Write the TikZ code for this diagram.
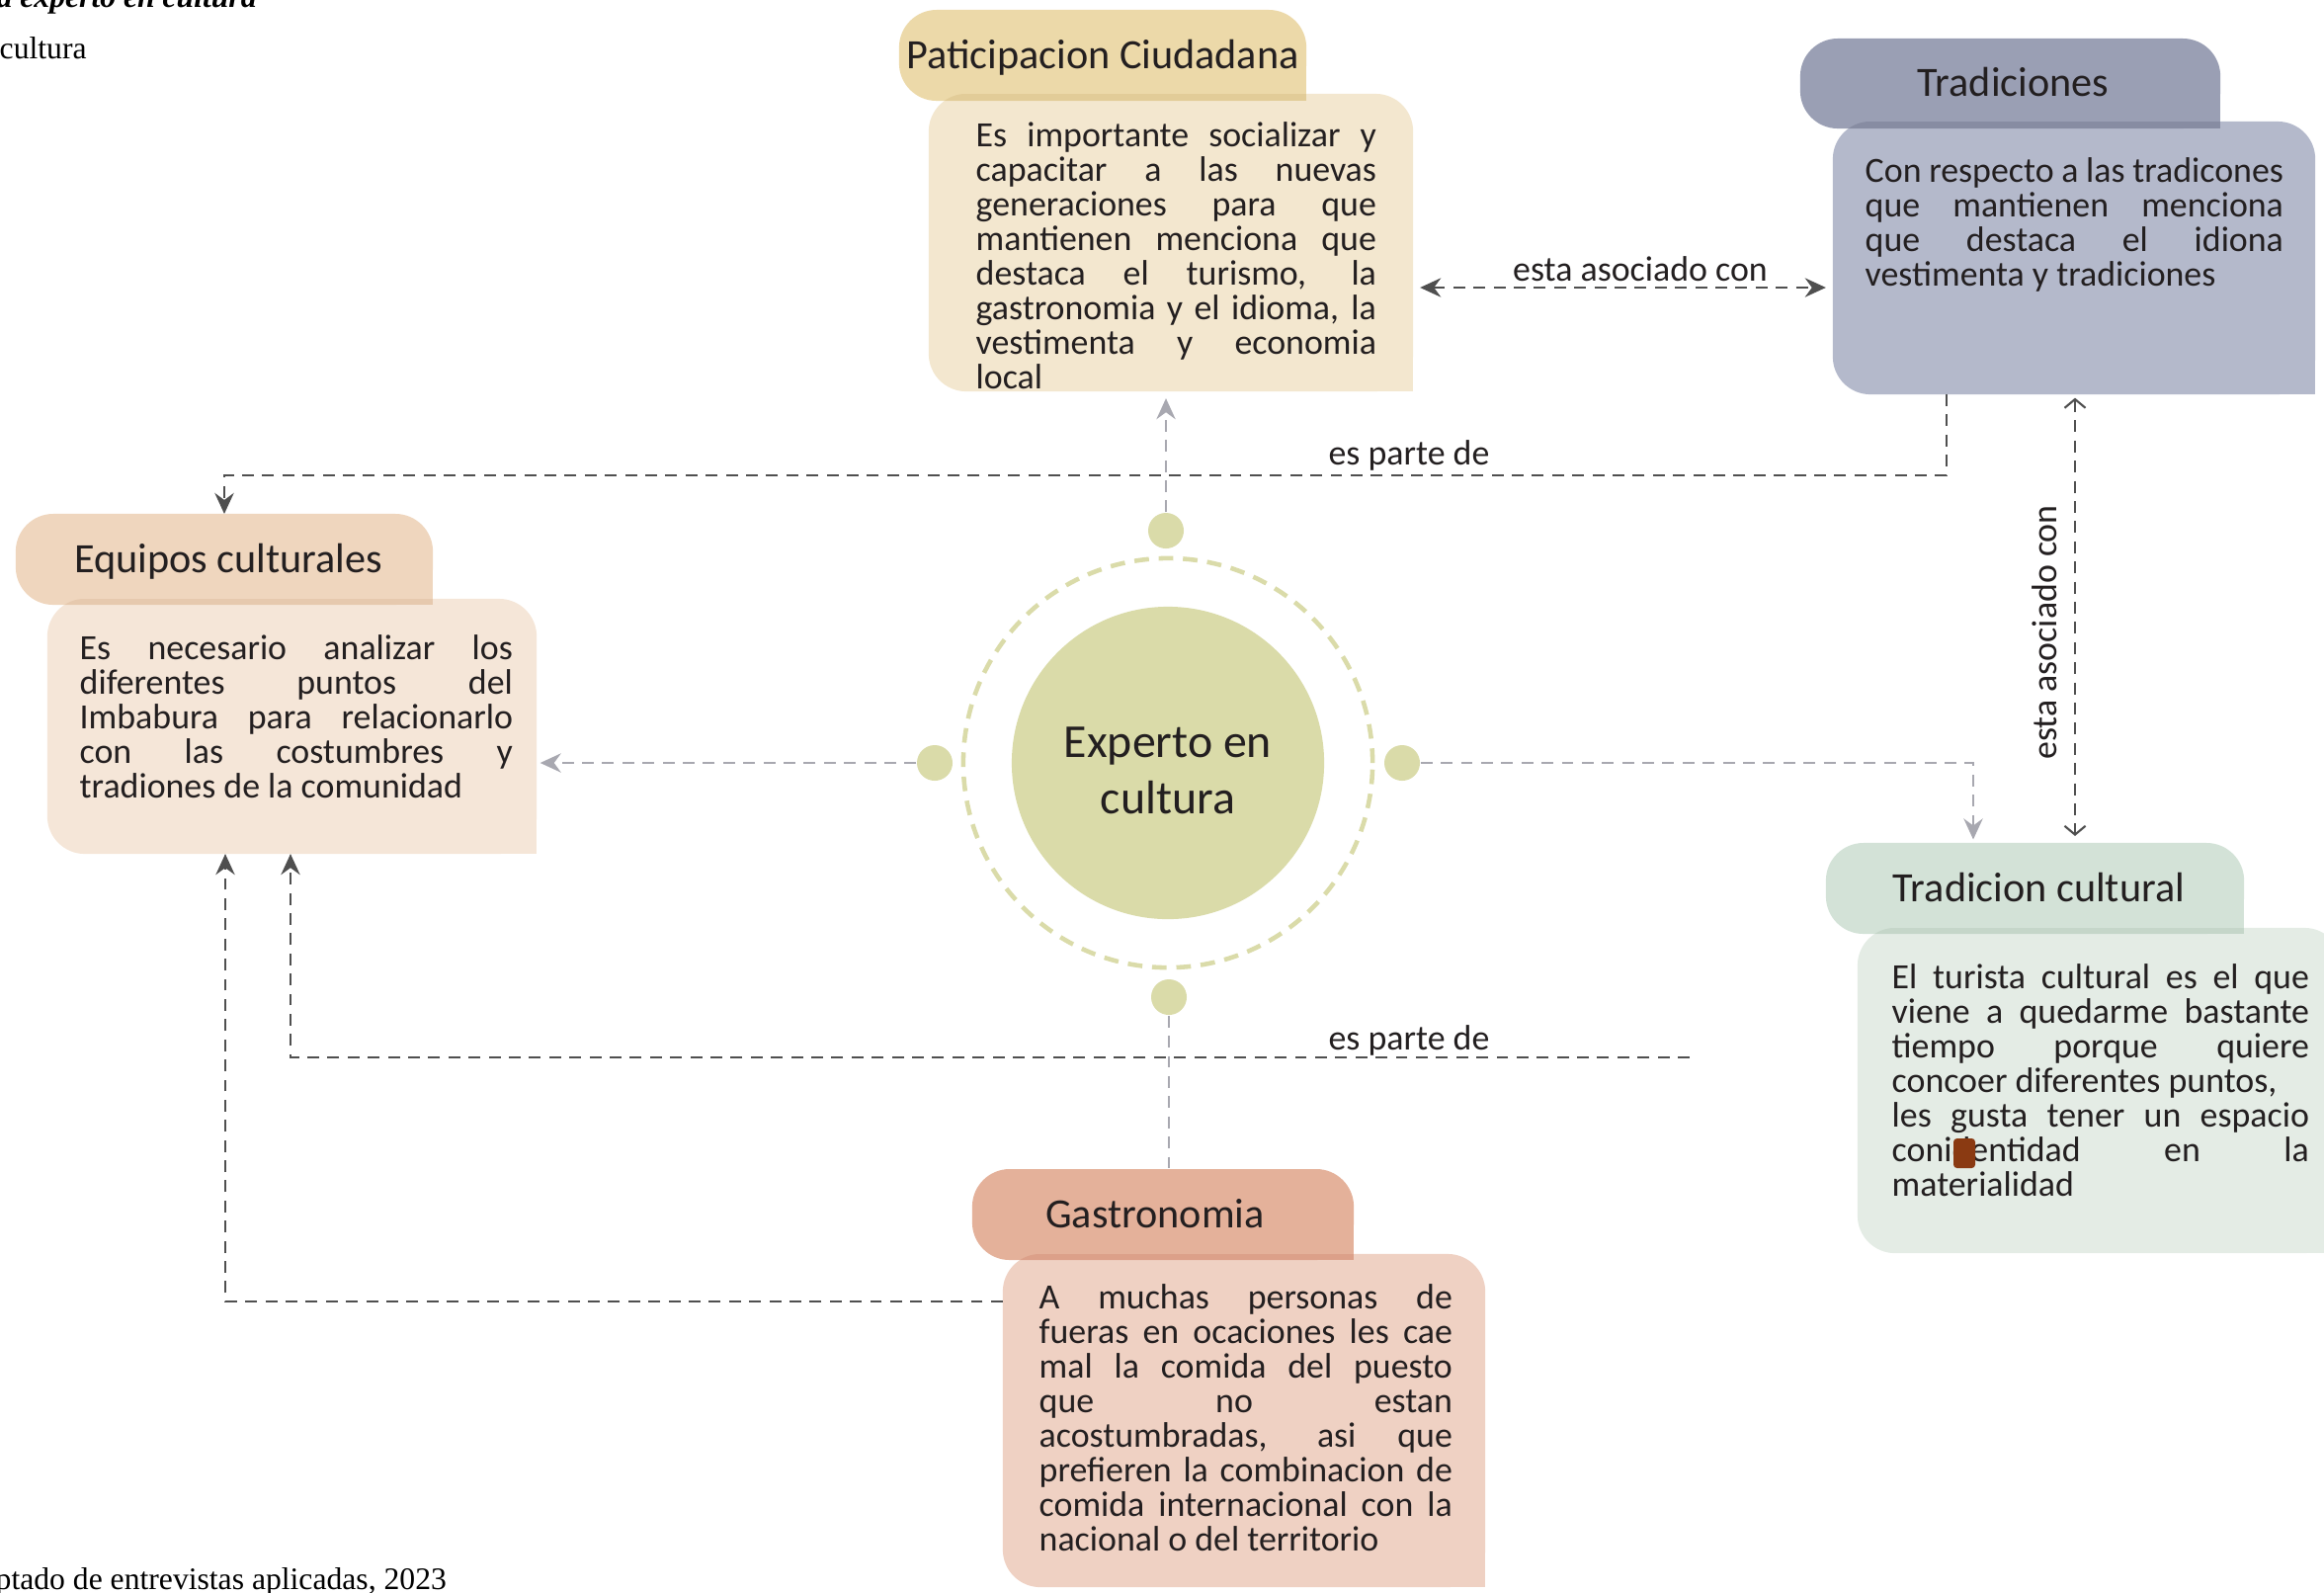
\documentclass[tikz,border=0pt]{standalone}
\usepackage{fontspec}
\setmainfont{Carlito}
\newfontfamily\capfont{Liberation Serif}
\usetikzlibrary{arrows.meta,calc}

\definecolor{txt}{HTML}{231F20}
\definecolor{cPatH}{HTML}{ECD9A9}
\definecolor{cPatB}{HTML}{F3E7CF}
\definecolor{cPatD}{HTML}{E2CC98}
\definecolor{cTraH}{HTML}{9A9FB4}
\definecolor{cTraB}{HTML}{B4B9CB}
\definecolor{cTraD}{HTML}{878CA2}
\definecolor{cEquH}{HTML}{EFD6BE}
\definecolor{cEquB}{HTML}{F5E6D8}
\definecolor{cEquD}{HTML}{E6C9AE}
\definecolor{cTcuH}{HTML}{D3E2D7}
\definecolor{cTcuB}{HTML}{E4ECE5}
\definecolor{cTcuD}{HTML}{C5D6C9}
\definecolor{cGasH}{HTML}{E4B19A}
\definecolor{cGasB}{HTML}{EFD1C3}
\definecolor{cGasD}{HTML}{DCA089}
\definecolor{cCore}{HTML}{DADBA9}
\definecolor{cDark}{HTML}{4F4F4F}
\definecolor{cLight}{HTML}{A8A8B0}
\definecolor{cBlob}{HTML}{8A3A12}

\tikzset{
  area/.style={rectangle, inner sep=0pt, outer sep=0pt, draw=none},
  ttl/.style={font=\fontsize{12}{14}\selectfont, text=txt, inner sep=0pt, text height=7.6pt, text depth=0pt},
  bodytext/.style={font=\fontsize{10.2}{9.96}\selectfont, text=txt, inner sep=0pt, align=justify, anchor=base west,
    execute at begin node={\tolerance=10000\hbadness=10000\hyphenpenalty=10000\exhyphenpenalty=10000\parindent=0pt}},
  lbl/.style={font=\fontsize{10.2}{12}\selectfont, text=txt, inner sep=0pt, anchor=base},
  darkln/.style={draw=cDark, line width=0.6pt, dash pattern=on 3.4pt off 2.4pt},
  lightln/.style={draw=cLight, line width=0.6pt, dash pattern=on 3.4pt off 2.4pt},
  arrS/.style={-{Stealth[length=6pt,width=5.5pt,inset=2pt]}},
  arrSS/.style={{Stealth[length=6pt,width=5.5pt,inset=2pt]}-{Stealth[length=6pt,width=5.5pt,inset=2pt]}},
  arrBB/.style={{Straight Barb[length=2.5pt,width=6pt]}-{Straight Barb[length=2.5pt,width=6pt]}},
  dot/.style={circle, fill=cCore, minimum size=0.36cm, inner sep=0pt},
  capt/.style={font={\capfont\fontsize{9}{11}\selectfont}, text=black, inner sep=0pt, anchor=base west},
}

\newcommand\drawcard[4]{%
  \fill[#3, rounded corners=0.38cm] (#1B.north west) rectangle (#1B.south east);
  \fill[#3] ($(#1B.south east)+(-40,-40)$) rectangle (#1B.south east);
  \fill[#2, rounded corners=0.38cm] (#1H.north west) rectangle (#1H.south east);
  \fill[#2] ($(#1H.south east)+(-40,-40)$) rectangle (#1H.south east);
  \begin{scope}
    \clip[rounded corners=0.38cm] (#1B.north west) rectangle (#1B.south east);
    \fill[#4] (#1B.north west -| #1H.west) rectangle (#1H.south east);
  \end{scope}%
}

\begin{document}
\begin{tikzpicture}[x=0.01cm, y=-0.01cm]
\useasboundingbox (0,0) rectangle (2352,1611);
\clip (0,0) rectangle (2352,1611);

% box areas
\node[area, minimum width=4.12cm, minimum height=0.92cm] (patH) at (1116,56) {};
\node[area, minimum width=4.90cm, minimum height=3.01cm] (patB) at (1185,245.5) {};
\node[area, minimum width=4.25cm, minimum height=0.91cm] (traH) at (2034.5,84.5) {};
\node[area, minimum width=4.88cm, minimum height=2.76cm] (traB) at (2099,261) {};
\node[area, minimum width=4.22cm, minimum height=0.92cm] (equH) at (227,566) {};
\node[area, minimum width=4.95cm, minimum height=2.58cm] (equB) at (295.5,735) {};
\node[area, minimum width=4.23cm, minimum height=0.92cm] (tcuH) at (2059.5,899) {};
\node[area, minimum width=4.90cm, minimum height=3.29cm] (tcuB) at (2125,1103.5) {};
\node[area, minimum width=3.86cm, minimum height=0.92cm] (gasH) at (1177,1229) {};
\node[area, minimum width=4.88cm, minimum height=3.37cm] (gasB) at (1259,1437.5) {};

\drawcard{pat}{cPatH}{cPatB}{cPatD}
\drawcard{tra}{cTraH}{cTraB}{cTraD}
\drawcard{equ}{cEquH}{cEquB}{cEquD}
\drawcard{tcu}{cTcuH}{cTcuB}{cTcuD}
\drawcard{gas}{cGasH}{cGasB}{cGasD}

% titles
\node[ttl] (patT) at (patH) {Paticipacion Ciudadana};
\node[ttl] (traT) at ([xshift=0.03cm]traH.center) {Tradiciones};
\node[ttl] (equT) at ([xshift=0.04cm]equH.center) {Equipos culturales};
\node[ttl] (tcuT) at ([xshift=0.04cm]tcuH.center) {Tradicion cultural};
\node[ttl] (gasT) at ([xshift=-0.08cm]gasH.center) {Gastronomia};

% body texts
\node[bodytext, text width=4.05cm] (patX) at (987,148) {Es importante socializar y\linebreak capacitar a las nuevas\linebreak generaciones para que\linebreak mantienen menciona que\linebreak destaca el turismo, la\linebreak gastronomia y el idioma, la\linebreak vestimenta y economia\linebreak local};
\node[bodytext, text width=4.23cm] (traX) at (1887,184) {Con respecto a las tradicones\linebreak que mantienen menciona\linebreak que destaca el idiona\linebreak vestimenta y tradiciones};
\node[bodytext, text width=4.38cm] (equX) at (80,667) {Es necesario analizar los\linebreak diferentes puntos del\linebreak Imbabura para relacionarlo\linebreak con las costumbres y\linebreak tradiones de la comunidad};
\node[bodytext, text width=4.22cm] (tcuX) at (1914,1000) {El turista cultural es el que\linebreak viene a quedarme bastante\linebreak tiempo porque quiere\linebreak concoer diferentes puntos,\\ les gusta tener un espacio\linebreak conidentidad en la\linebreak materialidad};
\node[bodytext, text width=4.18cm] (gasX) at (1051,1324) {A muchas personas de\linebreak fueras en ocaciones les cae\linebreak mal la comida del puesto\linebreak que no estan\linebreak acostumbradas, asi que\linebreak prefieren la combinacion de\linebreak comida internacional con la\linebreak nacional o del territorio};

\fill[cBlob, rounded corners=1pt] (1977,1152) rectangle (1999,1182);

% centre
\node[circle, fill=cCore, minimum size=3.16cm, inner sep=0pt] (core) at (1182,772) {};
\node[circle, draw=cCore, line width=1.3pt, dash pattern=on 4.2pt off 2.8pt, minimum size=4.14cm, inner sep=0pt] (ring) at (1182,772) {};
\node[font=\fontsize{13.6}{16.2}\selectfont, align=center, text=txt, inner sep=0pt] (coreT) at (1182,780) {Experto en\\cultura};
\node[dot] (dT) at (1180,537) {};
\node[dot] (dL) at (946,772) {};
\node[dot] (dR) at (1419,772) {};
\node[dot] (dB) at (1183,1009) {};

% light connectors from the centre
\draw[lightln, arrS, shorten >=2pt] (dT.north) -- (dT.north |- patB.south);
\draw[lightln, arrS, shorten >=1pt] (dL.west) -- (dL.west -| equB.east);
\coordinate (kD) at (1997,772);
\draw[lightln, arrS, shorten >=1pt] (dR.east) -- (kD) -- (kD |- tcuH.north);
\draw[lightln] (dB.south) -- (dB.south |- gasH.north);

% esta asociado con (horizontal)
\coordinate (kA) at (1660,291);
\draw[darkln, arrSS, shorten <=2pt, shorten >=2pt] (patB.east |- kA) -- (traB.west |- kA);
\node[lbl] (lblA) at (1660,284) {esta asociado con};

% es parte de (top)
\coordinate (kB) at (1970,481);
\draw[darkln, arrS] (kB |- traB.south) -- (kB) -- (kB -| equH.north) -- (equH.north);
\node[lbl] (lblB) at (1426,470) {es parte de};

% esta asociado con (vertical)
\coordinate (kC) at (2100,640);
\draw[darkln, arrBB, shorten <=1pt, shorten >=2pt] (kC |- traB.south) -- (kC |- tcuH.north);
\node[lbl, rotate=90] (lblC) at (2081,640) {esta asociado con};

% es parte de (bottom)
\coordinate (kE) at (1710,1070);
\coordinate (kF) at (294,1070);
\draw[darkln, arrS] (kE) -- (kF) -- (kF |- equB.south);
\node[lbl] (lblD) at (1426,1062) {es parte de};

% Gastronomia -> Equipos
\coordinate (kG) at (228,1317);
\draw[darkln, arrS] (gasB.west |- kG) -- (kG) -- (kG |- equB.south);

% captions
\node[capt, font={\capfont\fontsize{9}{11}\selectfont\bfseries\itshape}] (capA) at (-4,7) {a experto en cultura};
\node[capt] (capB) at (-1,59) {cultura};
\node[capt] (capC) at (-5,1608) {ptado de entrevistas aplicadas, 2023};
\end{tikzpicture}
\end{document}
